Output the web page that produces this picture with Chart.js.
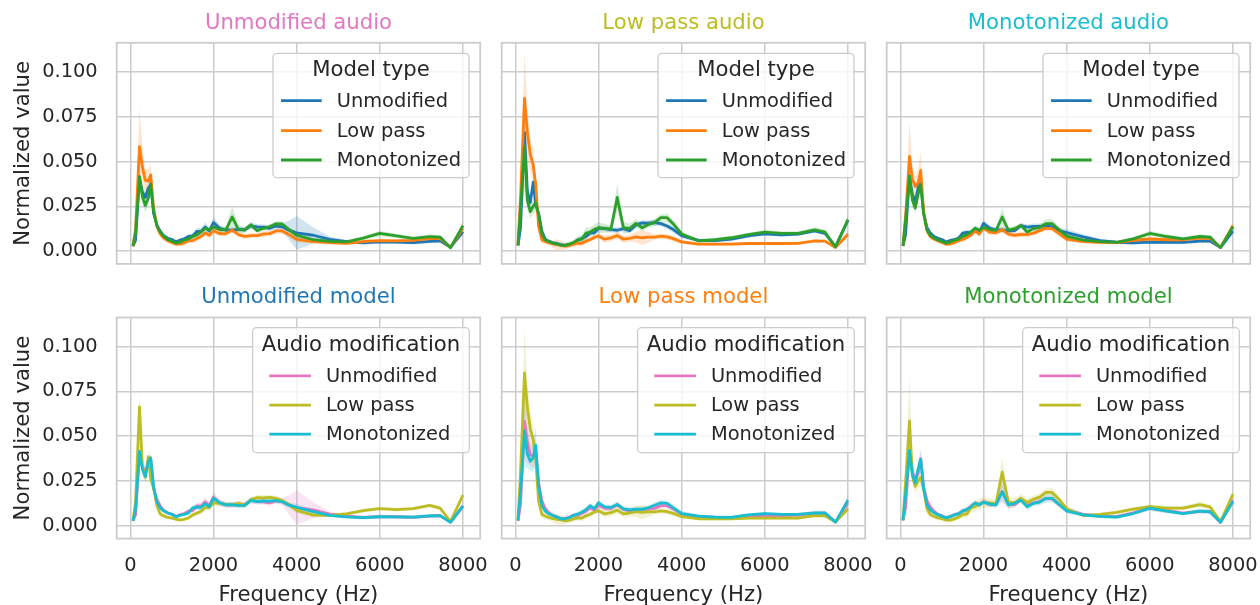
<!DOCTYPE html>
<html>
<head>
<meta charset="utf-8">
<script src="https://cdn.jsdelivr.net/npm/chart.js@4/dist/chart.umd.min.js"></script>
<style>
  html, body { margin: 0; padding: 0; background: #fff; }
  #wrap { position: relative; width: 1260px; height: 605px; overflow: hidden; }
  #wrap canvas { position: absolute; }
</style>
</head>
<body>
<div id="wrap"></div>
<script>
// Frequency bins (Hz)
const freqHz = [64, 125, 220, 290, 360, 430, 490, 560, 640, 720, 800, 900, 1000, 1100, 1200, 1300, 1400, 1500, 1600, 1700,
  1800, 1900, 2000, 2150, 2300, 2450, 2600, 2750, 2900, 3050, 3200, 3350, 3500, 3650, 3800, 4000, 4400, 4800, 5200, 5600,
  6000, 6400, 6800, 7200, 7450, 7700, 8000];

// Mean normalized value (x 1e-3) and CI half width, named <audio><model>
const unmodAudioUnmodModel = [2.7, 6, 40.5, 33, 30, 35, 37, 21, 14.5, 11, 8.6, 7.1, 6.4, 5.1, 6.1, 6.8, 8.1, 8.4, 11, 10.9,
  13.4, 11.2, 15.9, 12.7, 11.6, 11.6, 12.1, 11.8, 14.1, 13.5, 13.3, 12.7, 13.9, 13.5, 11.8, 10.1, 8.8, 6.5, 5.3, 4.6,
  5.1, 5, 4.7, 5.4, 5.7, 2, 10.8];
const unmodAudioUnmodModelCi = [0.5, 1.5, 3, 3, 3, 3, 3, 2.5, 2, 1.5, 1.2, 1, 1, 1, 1, 1, 1.2, 1.5, 2, 2,
  2.5, 2, 3, 2, 1.5, 1.5, 1.5, 1.5, 2, 1.5, 1.5, 1.5, 1.5, 2, 5, 9.5, 4.5, 1.5, 1, 1,
  1, 1, 1, 1, 1, 0.5, 2];

const lowAudioUnmodModel = [3.1, 13, 66.3, 33, 27, 38.5, 26, 21, 11, 6.5, 5.5, 4.6, 4.2, 3.6, 3.2, 3.6, 4.4, 6, 7, 8.1,
  10.1, 10.1, 12.8, 12.5, 11.9, 11.6, 12.5, 11.4, 14.6, 15.7, 15.6, 15.8, 15.3, 14, 12, 8.6, 5.9, 5.8, 6.6, 8.4,
  9.6, 9, 9.5, 11.3, 9.8, 2.3, 17.1];
const lowAudioUnmodModelCi = [0.5, 3, 8, 4, 3, 4, 3, 3, 2, 1.5, 1, 1, 1, 1, 1, 1, 1, 1.5, 1.5, 1.5,
  1.5, 1.5, 1.5, 1.5, 1.5, 1.5, 1.5, 1.5, 1.5, 1.5, 1.5, 1.5, 1.5, 1.5, 1.5, 1.5, 1, 1, 1, 1,
  1, 1, 1, 1, 1, 0.5, 1.5];

const monoAudioUnmodModel = [2.7, 9, 41.5, 31.5, 27.5, 35.5, 38, 21.5, 13.2, 10, 8.3, 7.1, 6.4, 5, 5.9, 6.3, 7.2, 10, 10.4, 10.3,
  12.3, 10.6, 15.4, 12.8, 11.6, 11.8, 11.2, 11.4, 14.2, 13.4, 13.8, 13.7, 14, 13.5, 11.6, 10.3, 7.9, 5.8, 4.9, 4.5,
  5, 4.9, 4.8, 5.5, 5.6, 1.9, 11.1];
const monoAudioUnmodModelCi = [0.5, 2, 4, 3, 3, 3, 3, 2.5, 2, 1.5, 1, 1, 1, 1, 1, 1, 1, 1.5, 1.5, 1.5,
  1.5, 1.5, 2, 1.5, 1.5, 1.5, 1.5, 1.5, 1.5, 1.5, 1.5, 1.5, 1.5, 1.5, 1.5, 2, 1.5, 1, 1, 1,
  1, 1, 1, 1, 1, 0.5, 1.5];

const unmodAudioLowModel = [2.6, 12, 58.3, 47, 39.5, 39, 42.5, 24, 13.7, 9.5, 7.3, 5.8, 4.8, 3.9, 4, 4.6, 5.8, 5.8, 7, 8.1,
  10, 8.8, 11.4, 9.7, 9.7, 11.7, 9.2, 8.2, 8.6, 8.6, 9.5, 9.7, 11.2, 11.2, 9.4, 6.5, 5.2, 4.7, 4.3, 5.3,
  5.8, 5.7, 5.9, 6.9, 7, 2, 12.7];
const unmodAudioLowModelCi = [0.5, 4, 22, 12, 6, 7, 6, 4, 2.5, 2, 1.5, 1.5, 1.5, 1.5, 1.5, 1.5, 1.5, 1.5, 1.5, 1.5,
  1.5, 1.5, 1.5, 1.5, 1.5, 1.5, 1.5, 1.5, 1.5, 1.5, 1.5, 1.5, 1.5, 1.5, 1.5, 1.5, 1, 1, 1, 1,
  1, 1, 1, 1.5, 1.5, 0.5, 4];

const lowAudioLowModel = [3.2, 30, 85.3, 66, 54, 48, 37, 13.7, 6.2, 5.3, 4.7, 4, 3.6, 3.2, 2.7, 3.1, 3.8, 4.4, 4.3, 5.5,
  6.4, 7.6, 8.4, 6.6, 7.3, 8.7, 6.6, 7.1, 7.9, 7.4, 7.8, 7.7, 8.3, 7.9, 6.9, 5.1, 3.9, 3.8, 3.9, 4.2,
  4.2, 4.2, 4.3, 5.6, 5.5, 2, 9.4];
const lowAudioLowModelCi = [0.5, 10, 25, 15, 10, 8, 6, 4, 2, 1.5, 1.5, 2, 3, 2.5, 2, 1.5, 1.5, 1.5, 1.5, 1.5,
  1.5, 1.5, 1.5, 2, 2, 2, 2, 2, 3, 4, 3, 1.5, 1.5, 1.5, 1.5, 1, 0.8, 0.8, 0.8, 0.8,
  0.8, 0.8, 0.8, 0.8, 0.8, 0.5, 1.5];

const monoAudioLowModel = [3, 19, 52.8, 40, 36, 38, 45, 22, 11.4, 8.1, 6.8, 5.7, 4.8, 3.8, 3.9, 4.6, 5.8, 6.5, 7.5, 9,
  11.2, 9.5, 12.8, 10.5, 10.2, 11.9, 9.4, 8.8, 9.3, 9.2, 10, 11.4, 12.8, 12.5, 10, 6.7, 5.3, 4.8, 4.7, 6,
  6.7, 6.3, 6.3, 7.2, 7.1, 2, 14.2];
const monoAudioLowModelCi = [0.5, 4, 20, 8, 5, 8, 11, 4, 2, 1.5, 1.2, 1, 1, 1, 1, 1, 1.2, 1.5, 1.5, 1.5,
  1.5, 1.5, 1.5, 1.5, 1.5, 1.5, 1.5, 1.5, 1.5, 1.5, 1.5, 1.5, 1.5, 1.5, 1.5, 1.5, 1, 1, 1, 1,
  1, 1, 1, 1, 1, 0.5, 2];

const unmodAudioMonoModel = [2.9, 10, 41.6, 30.3, 25.5, 29.5, 37.5, 22, 14, 10.5, 8.3, 6.4, 5.5, 4.4, 5.1, 6.2, 6.8, 8.1, 9, 10.7,
  12.7, 11.8, 13.5, 12, 12, 19, 12, 11.8, 14.6, 11.4, 12.7, 13.5, 15.2, 15.1, 12.2, 8.8, 6.3, 5.4, 5.1, 7.2,
  9.8, 8.5, 7, 8, 7.8, 1.8, 14.2];
const unmodAudioMonoModelCi = [0.5, 2, 5, 4, 4, 4, 5, 3, 2, 1.5, 1.2, 1, 1, 1, 1, 1, 1.2, 1.5, 1.5, 1.5,
  1.5, 1.5, 1.5, 1.5, 1.5, 6, 2.5, 1.5, 1.5, 1.5, 1.5, 1.5, 1.5, 1.5, 1.5, 1.5, 1, 1, 1, 1,
  1.5, 1.2, 1, 1.2, 1.2, 0.5, 2];

const lowAudioMonoModel = [3.2, 24, 58.5, 28, 22, 25, 27, 20.5, 9.5, 6.2, 5.3, 4.4, 3.9, 3.2, 3.1, 3.8, 4.8, 6.2, 6.6, 10,
  10.6, 12.1, 13, 12.7, 12.3, 29.9, 13, 12.7, 15.4, 13, 14.8, 16, 18.6, 18.6, 15.1, 9.5, 5.7, 6.3, 7.4, 9.2,
  10.6, 9.8, 9.8, 11.8, 10.5, 2.3, 17.5];
const lowAudioMonoModelCi = [0.5, 6, 25, 5, 4, 4, 5, 4, 2.5, 1.5, 1.2, 1.2, 1.2, 1.2, 1.5, 1.5, 1.5, 2, 2.5, 3,
  2.5, 3, 3, 2.5, 2, 8, 3.5, 2.5, 2.5, 2, 2, 2, 2, 2.5, 2, 1.5, 1, 1, 1, 1,
  1.2, 1.2, 1.2, 1.5, 1.5, 0.5, 2];

const monoAudioMonoModel = [3, 17, 42, 28.5, 24, 32, 37, 20.7, 11.8, 8.8, 7.4, 6.2, 5.3, 4.4, 5.1, 6, 6.6, 8.3, 9, 10.7,
  12.7, 11.6, 13.2, 12, 11.6, 19, 11.6, 12.5, 14.3, 10.6, 12.5, 13.2, 15.3, 15.3, 12.3, 8.3, 6.1, 5.2, 4.8, 6.8,
  9.8, 8.1, 6.8, 8.1, 7.8, 1.9, 13.5];
const monoAudioMonoModelCi = [0.5, 3, 5, 4, 3, 4, 5, 3, 2, 1.5, 1.2, 1, 1, 1, 1, 1, 1.2, 1.5, 1.5, 1.5,
  1.5, 1.5, 1.5, 1.5, 1.5, 5, 2, 1.5, 1.5, 1.5, 1.5, 2, 2.5, 2.5, 1.5, 1.5, 1, 1, 1, 1,
  1.5, 1.2, 1, 1.2, 1.2, 0.5, 2];

const kindLabels = ['Unmodified', 'Low pass', 'Monotonized'];
const xTicks = [0, 2000, 4000, 6000, 8000];
const yTicks = [0, 0.025, 0.05, 0.075, 0.1];

// [audio][model]
const means = [
  [unmodAudioUnmodModel, unmodAudioLowModel, unmodAudioMonoModel],
  [lowAudioUnmodModel, lowAudioLowModel, lowAudioMonoModel],
  [monoAudioUnmodModel, monoAudioLowModel, monoAudioMonoModel]
];
const cis = [
  [unmodAudioUnmodModelCi, unmodAudioLowModelCi, unmodAudioMonoModelCi],
  [lowAudioUnmodModelCi, lowAudioLowModelCi, lowAudioMonoModelCi],
  [monoAudioUnmodModelCi, monoAudioLowModelCi, monoAudioMonoModelCi]
];

const modelColors = ['#1f77b4', '#ff7f0e', '#2ca02c'];
const audioColors = ['#e377c2', '#bcbd22', '#17becf'];
const TEXT = '#262626';
const GRID = '#cccccc';
const FONT = 'DejaVu Sans';
const LINE_W = 2.8;

Chart.defaults.font.family = FONT;
Chart.defaults.color = TEXT;

function rgba(hex, a) {
  const n = parseInt(hex.slice(1), 16);
  return `rgba(${n >> 16}, ${(n >> 8) & 255}, ${n & 255}, ${a})`;
}

// frame + legend box drawn inside the plot area
const panelDecor = {
  id: 'panelDecor',
  afterDraw(chart, args, opts) {
    const { ctx, chartArea: a } = chart;
    const g = opts.geom;
    ctx.save();
    ctx.strokeStyle = GRID;
    ctx.lineWidth = 1.8;
    ctx.strokeRect(a.left, a.top, a.right - a.left, a.bottom - a.top);

    const left = a.right - g.inset - g.w;
    const top = a.top + g.top;
    ctx.beginPath();
    ctx.roundRect(left, top, g.w, g.h, 4);
    ctx.fillStyle = 'rgba(255,255,255,0.8)';
    ctx.fill();
    ctx.lineWidth = 1.3;
    ctx.strokeStyle = GRID;
    ctx.stroke();

    ctx.fillStyle = TEXT;
    ctx.textBaseline = 'middle';
    ctx.textAlign = 'center';
    ctx.font = `21.2px "${FONT}"`;
    ctx.fillText(opts.title, left + g.w / 2, top + g.titleY);

    ctx.textAlign = 'left';
    ctx.font = `19.4px "${FONT}"`;
    opts.items.forEach((it, i) => {
      const y = top + g.rowY[i];
      ctx.strokeStyle = it.color;
      ctx.lineWidth = LINE_W;
      ctx.beginPath();
      ctx.moveTo(left + g.lineX[0], y);
      ctx.lineTo(left + g.lineX[1], y);
      ctx.stroke();
      ctx.fillText(it.label, left + g.textX, y + 0.9);
    });
    ctx.restore();
  }
};

const legendTop = { w: 196, h: 124.4, inset: 11.2, top: 10.5, titleY: 17.6, rowY: [47.4, 77.4, 106.7], lineX: [8, 48.7], textX: 63.7 };
const legendBottom = { w: 216.7, h: 125, inset: 10.9, top: 10.2, titleY: 17.6, rowY: [48.2, 77.5, 106.5], lineX: [16.7, 58.3], textX: 73.3 };

const cols = [
  { x: 0, w: 490, yw: 116.7 },
  { x: 490, w: 385, yw: 11.7 },
  { x: 875, w: 385, yw: 11.7 }
];
const rows = [
  { y: 0, h: 280, pad: { top: 10.7, bottom: 6.66 }, xh: 16.1, legend: legendTop, legendTitle: 'Model type' },
  { y: 280, h: 325, pad: { top: 4.94, bottom: 7.12 }, xh: 66.4, legend: legendBottom, legendTitle: 'Audio modification' }
];

function noPad(s) {
  s.paddingLeft = 0; s.paddingRight = 0; s.paddingTop = 0; s.paddingBottom = 0;
}

function buildDatasets(series) {
  const lines = series.map((s, k) => ({
    label: s.label,
    data: freqHz.map((f, i) => ({ x: f, y: s.mean[i] / 1000 })),
    borderColor: s.color,
    borderWidth: LINE_W,
    borderJoinStyle: 'round',
    pointRadius: 0,
    tension: 0,
    fill: false,
    order: 3 - k
  }));
  const bands = [];
  series.forEach(s => {
    bands.push({
      data: freqHz.map((f, i) => ({ x: f, y: (s.mean[i] - s.ci[i]) / 1000 })),
      borderWidth: 0, borderColor: 'transparent', pointRadius: 0, fill: false, order: 10
    });
    bands.push({
      data: freqHz.map((f, i) => ({ x: f, y: (s.mean[i] + s.ci[i]) / 1000 })),
      borderWidth: 0, borderColor: 'transparent', pointRadius: 0,
      backgroundColor: rgba(s.color, 0.2), fill: '-1', order: 10
    });
  });
  return lines.concat(bands);
}

function makePanel(r, c, titleText, titleColor, series) {
  const row = rows[r], col = cols[c];
  const canvas = document.createElement('canvas');
  canvas.width = col.w;
  canvas.height = row.h;
  canvas.style.left = col.x + 'px';
  canvas.style.top = row.y + 'px';
  document.getElementById('wrap').appendChild(canvas);
  const bottomRow = r === 1, leftCol = c === 0;

  new Chart(canvas.getContext('2d'), {
    type: 'line',
    data: { datasets: buildDatasets(series) },
    options: {
      responsive: false,
      animation: false,
      events: [],
      layout: { padding: { left: 0, right: 9.8, top: 0, bottom: 0 } },
      plugins: {
        legend: { display: false },
        tooltip: { enabled: false },
        title: {
          display: true, text: titleText, color: titleColor, fullSize: false,
          font: { size: 21.2, weight: 'normal' }, padding: row.pad
        },
        panelDecor: {
          geom: row.legend, title: row.legendTitle,
          items: series.map(s => ({ label: s.label, color: s.color }))
        }
      },
      scales: {
        x: {
          type: 'linear', min: -328, max: 8415,
          afterBuildTicks(s) { s.ticks = xTicks.map(v => ({ value: v })); },
          ticks: {
            display: bottomRow, padding: 15.4, autoSkip: false,
            font: { size: 19.4 }, color: TEXT, maxRotation: 0, callback: v => String(v)
          },
          grid: { color: GRID, lineWidth: 1.5, drawTicks: false },
          border: { display: false },
          title: { display: bottomRow, text: 'Frequency (Hz)', font: { size: 21.2 }, color: TEXT, padding: { top: 0, bottom: -3 } },
          afterFit(s) { s.height = row.xh; noPad(s); }
        },
        y: {
          type: 'linear', min: -0.0072, max: 0.1163,
          afterBuildTicks(s) { s.ticks = yTicks.map(v => ({ value: v })); },
          ticks: {
            display: leftCol, padding: 19, font: { size: 19.4 }, color: TEXT,
            callback: v => Number(v).toFixed(3)
          },
          grid: { color: GRID, lineWidth: 1.5, drawTicks: false },
          border: { display: false },
          title: { display: leftCol, text: 'Normalized value', font: { size: 21.2 }, color: TEXT, padding: { top: 10.5, bottom: 0 } },
          afterFit(s) { s.width = col.yw; noPad(s); }
        }
      }
    },
    plugins: [panelDecor]
  });
}

// top row: one panel per audio modification, hue = model type
for (let a = 0; a < 3; a++) {
  makePanel(0, a, kindLabels[a] + ' audio', audioColors[a],
    [0, 1, 2].map(m => ({ label: kindLabels[m], color: modelColors[m], mean: means[a][m], ci: cis[a][m] })));
}
// bottom row: one panel per model type, hue = audio modification
for (let m = 0; m < 3; m++) {
  makePanel(1, m, kindLabels[m] + ' model', modelColors[m],
    [0, 1, 2].map(a => ({ label: kindLabels[a], color: audioColors[a], mean: means[a][m], ci: cis[a][m] })));
}
</script>
</body>
</html>
